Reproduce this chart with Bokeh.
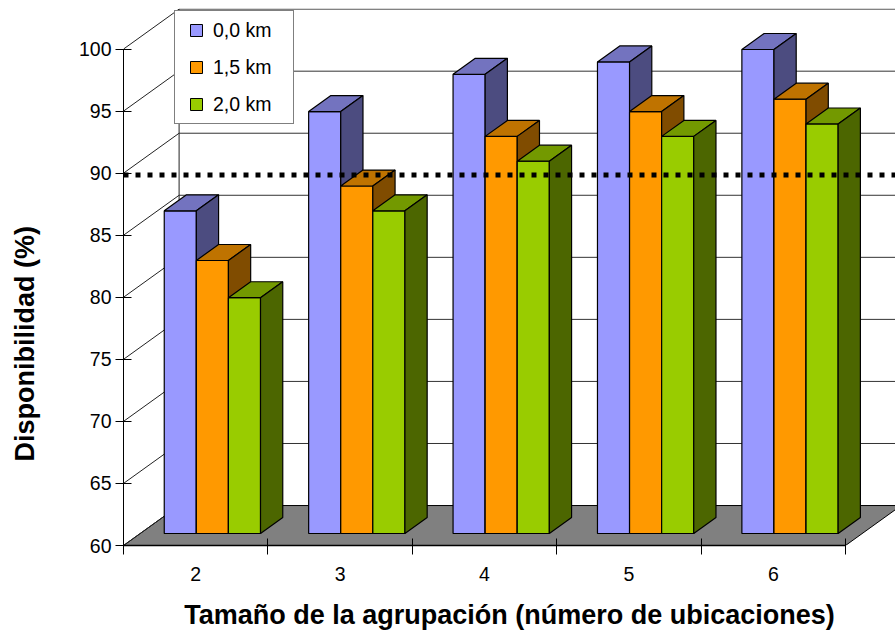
from bokeh.plotting import figure
from bokeh.models import Range1d, LinearAxis, FixedTicker, Legend, LegendItem, Span, Title
from bokeh.embed import file_html
from bokeh.resources import INLINE

# ---------------- data ----------------
categories = ["2", "3", "4", "5", "6"]
series_names = ["0,0 km", "1,5 km", "2,0 km"]
disp_00 = [86, 94, 97, 98, 99]
disp_15 = [82, 88, 92, 94, 95]
disp_20 = [79, 86, 90, 92, 93]
series_values = [disp_00, disp_15, disp_20]
threshold = 89.85
y_ticks = [60, 65, 70, 75, 80, 85, 90, 95, 100]
y_min, y_max = 60, 100
x_title = "Tamaño de la agrupación (número de ubicaciones)"
y_title = "Disponibilidad (%)"

# ---------------- styles ----------------
front_colors = ["#9999FF", "#FF9900", "#99CC00"]
top_colors = ["#7373BF", "#BF7300", "#739900"]
side_colors = ["#4C4C80", "#804C00", "#4C6600"]
FONT = "Liberation Sans"

# pseudo-3D projection (depth vector in data units)
DX, DY = 0.385, 3.22
F0, F1 = 0.3, 0.7           # bar depth span
BW = 1 / 4.5                # bar width (gap width 150%)
GAP = 0.75 / 4.5            # gap at each side of a group

n_cat = len(categories)
x_lo = -0.5
x_hi = x_lo + n_cat         # floor right (front)

p = figure(width=895, height=633,
           x_range=Range1d(x_lo, 4.846), y_range=Range1d(y_min, 103.27),
           x_axis_type=None, y_axis_type=None,
           output_backend="svg", toolbar_location=None,
           min_border_left=123, min_border_right=0, min_border_top=8, min_border_bottom=88,
           outline_line_color=None, background_fill_color="white", border_fill_color="white")

# ---------------- walls and floor ----------------
p.patch(x=[x_lo, x_hi, x_hi + DX, x_lo + DX], y=[y_min, y_min, y_min + DY, y_min + DY],
        fill_color="#808080", line_color="black", line_width=1)
diag_xs = [[x_lo, x_lo + DX] for v in y_ticks]
diag_ys = [[v, v + DY] for v in y_ticks]
p.multi_line(xs=diag_xs, ys=diag_ys, line_color="#222222", line_width=1)
back_xs = [[x_lo + DX, x_hi + DX] for v in y_ticks[1:]]
back_ys = [[v + DY, v + DY] for v in y_ticks[1:]]
p.multi_line(xs=back_xs, ys=back_ys, line_color="#333333", line_width=1)
p.multi_line(xs=[[x_lo + DX, x_lo + DX]], ys=[[y_min + DY, y_max + DY]], line_color="#222222", line_width=1)

# ---------------- bars ----------------
legend_proxies = []
for s, vals in enumerate(series_values):
    lefts = [i - 0.5 + GAP + s * BW for i in range(n_cat)]
    rights = [l + BW for l in lefts]
    p.quad(left=[l + F0 * DX for l in lefts], right=[r + F0 * DX for r in rights],
           bottom=[y_min + F0 * DY] * n_cat, top=[v + F0 * DY for v in vals],
           fill_color=front_colors[s], line_color="black", line_width=1.2)
    top_xs = [[l + F0 * DX, r + F0 * DX, r + F1 * DX, l + F1 * DX] for l, r in zip(lefts, rights)]
    top_ys = [[v + F0 * DY, v + F0 * DY, v + F1 * DY, v + F1 * DY] for v in vals]
    p.patches(xs=top_xs, ys=top_ys, fill_color=top_colors[s], line_color="black", line_width=1.2)
    side_xs = [[r + F0 * DX, r + F1 * DX, r + F1 * DX, r + F0 * DX] for r in rights]
    side_ys = [[y_min + F0 * DY, y_min + F1 * DY, v + F1 * DY, v + F0 * DY] for v in vals]
    p.patches(xs=side_xs, ys=side_ys, fill_color=side_colors[s], line_color="black", line_width=1.2)
    proxy = p.scatter(x=list(range(n_cat)), y=vals, marker="square", size=12,
                      fill_color=front_colors[s], line_color="black", line_width=1, visible=False)
    legend_proxies.append(proxy)

p.add_layout(Span(location=threshold, dimension="width", line_color="black",
                  line_width=5, line_dash="5 7"))

# ---------------- axes ----------------
yax = LinearAxis(ticker=FixedTicker(ticks=y_ticks), bounds=(y_min, y_max),
                 major_tick_in=8, major_tick_out=8, minor_tick_line_color=None,
                 axis_line_color="black", major_tick_line_color="black",
                 major_label_text_font=FONT, major_label_text_font_size="19.5px",
                 major_label_text_color="black", major_label_standoff=4)
p.add_layout(yax, "left")
# invisible spacer between the tick labels and the title
spacer = LinearAxis(ticker=FixedTicker(ticks=[80]), major_label_overrides={80: ""},
                    axis_line_color=None, major_tick_line_color=None, minor_tick_line_color=None,
                    major_tick_out=31, major_tick_in=0, minor_tick_out=0, minor_tick_in=0,
                    major_label_standoff=0)
p.add_layout(spacer, "left")
p.add_layout(Title(text=y_title, align="left", offset=84, text_font=FONT,
                   text_font_style="bold", text_font_size="27px", text_color="black"), "left")

xax = LinearAxis(ticker=FixedTicker(ticks=list(range(n_cat)),
                                    minor_ticks=[x_lo + k for k in range(n_cat + 1)]),
                 bounds=(x_lo, x_hi),
                 major_tick_line_color=None, major_tick_in=0, major_tick_out=0,
                 minor_tick_in=7, minor_tick_out=9, minor_tick_line_color="black",
                 axis_line_color="black", axis_line_width=1.5,
                 major_label_overrides={i: c for i, c in enumerate(categories)},
                 major_label_text_font=FONT, major_label_text_font_size="19.5px",
                 major_label_text_color="black", major_label_standoff=12,
                 axis_label=x_title, axis_label_text_font=FONT,
                 axis_label_text_font_style="bold", axis_label_text_font_size="27px",
                 axis_label_text_color="black", axis_label_standoff=16)
p.add_layout(xax, "below")

# ---------------- legend ----------------
legend = Legend(items=[LegendItem(label=n, renderers=[r]) for n, r in zip(series_names, legend_proxies)],
                location=(51, 421), glyph_width=34, glyph_height=30, label_standoff=0,
                padding=4, spacing=7, margin=0, label_width=76,
                border_line_color="black", border_line_width=1,
                background_fill_color="white", background_fill_alpha=1,
                label_text_font=FONT, label_text_font_size="19.5px", label_text_color="black")
p.add_layout(legend)

open("out.html", "w").write(file_html(p, INLINE))
